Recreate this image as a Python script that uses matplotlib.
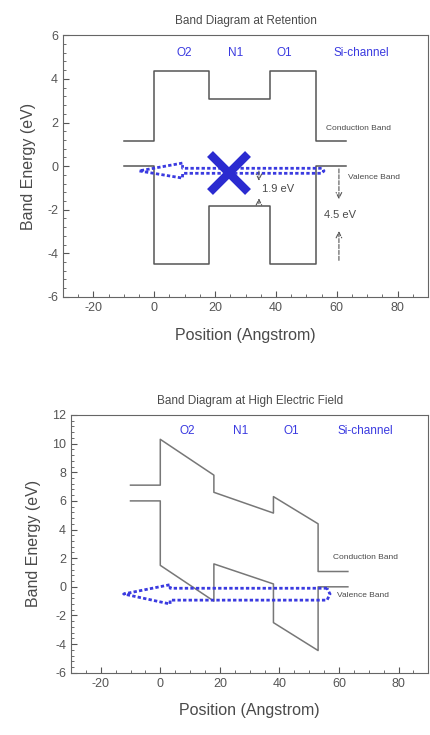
import matplotlib
matplotlib.use('Agg')
import matplotlib.pyplot as plt
from matplotlib.ticker import AutoMinorLocator

plt.rcParams['font.family'] = ['Liberation Sans', 'DejaVu Sans']
plt.rcParams['axes.unicode_minus'] = False

# --- retention band diagram (flat bands) ---
ret_cb_x = [-10, 0, 0, 18, 18, 38, 38, 53, 53, 63]
ret_cb_y = [1.15, 1.15, 4.35, 4.35, 3.1, 3.1, 4.35, 4.35, 1.15, 1.15]
ret_vb_x = [-10, 0, 0, 18, 18, 38, 38, 53, 53, 63]
ret_vb_y = [0, 0, -4.5, -4.5, -1.85, -1.85, -4.5, -4.5, 0, 0]

# hollow dotted arrow outline (retention)
ret_arrow_x = [55, 9.3, 9.3, -5, 9.3, 9.3, 55, 55.8, 55]
ret_arrow_y = [-0.1, -0.1, 0.14, -0.22, -0.55, -0.33, -0.33, -0.22, -0.1]
blocked_x = [24.6]
blocked_y = [-0.3]

# --- high field band diagram (tilted bands) ---
hf_cb_x = [-10, 0, 0, 18, 18, 38, 38, 53, 53, 63]
hf_cb_y = [7.1, 7.1, 10.3, 7.8, 6.6, 5.15, 6.3, 4.4, 1.07, 1.07]
hf_vb_x = [-10, 0, 0, 18, 18, 38, 38, 53, 53, 63]
hf_vb_y = [6.0, 6.0, 1.5, -1.0, 1.6, 0.2, -2.5, -4.45, 0, 0]

hf_arrow_x = [56, 3.3, 3.3, -12.3, 3.3, 3.3, 56, 57, 56]
hf_arrow_y = [-0.1, -0.1, 0.15, -0.5, -1.2, -0.93, -0.93, -0.5, -0.1]

layers = ['O2', 'N1', 'O1', 'Si-channel']
ret_layer_x = [9.8, 26.8, 42.6, 68.2]
hf_layer_x = [9.2, 27, 44, 68.8]

band_col = '#555555'
txt_col = '#4a4a4a'
blue = '#3a3ae0'

fig = plt.figure(figsize=(4.3, 7.35), dpi=100)
ax1 = fig.add_axes([0.1465, 0.596, 0.849, 0.356])
ax2 = fig.add_axes([0.165, 0.0847, 0.831, 0.3507])


def style(ax, ylim):
    ax.set_xlim(-30, 90)
    ax.set_ylim(*ylim)
    ax.set_yticks(range(ylim[0], ylim[1] + 1, 2))
    ax.set_xticks(range(-20, 81, 20))
    ax.xaxis.set_minor_locator(AutoMinorLocator(4))
    ax.yaxis.set_minor_locator(AutoMinorLocator(5))
    ax.tick_params(which='both', direction='in', top=False, right=False,
                   colors=band_col, labelcolor='#555555', labelsize=9)
    ax.tick_params(which='major', length=4)
    ax.tick_params(which='minor', length=2)
    for s in ax.spines.values():
        s.set_color('#666666')
    ax.set_xlabel('Position (Angstrom)', fontsize=11.5, color=txt_col, labelpad=10)
    ax.set_ylabel('Band Energy (eV)', fontsize=11.5, color=txt_col, labelpad=8)


arrow_ls = (0, (1.2, 0.8))

# top plot
ax1.plot(ret_cb_x, ret_cb_y, color=band_col, lw=1.1)
ax1.plot(ret_vb_x, ret_vb_y, color=band_col, lw=1.1)
ax1.plot(ret_arrow_x, ret_arrow_y, color=blue, lw=2, ls=arrow_ls)
ax1.plot(blocked_x, blocked_y, marker='x', ms=27, mew=6, color='#2b2bd0', ls='none')
for name, x in zip(layers, ret_layer_x):
    ax1.text(x, 5.2, name, color=blue, fontsize=8.5, ha='center', va='center')
ax1.text(56.3, 1.73, 'Conduction Band', fontsize=6, color=txt_col, va='center')
ax1.text(63.6, -0.5, 'Valence Band', fontsize=6, color=txt_col, va='center')
dash = dict(arrowstyle='->', linestyle='--', color='#555555', lw=0.8)
ax1.annotate('', xy=(34.4, -0.8), xytext=(34.4, -0.1), arrowprops=dash)
ax1.annotate('', xy=(34.4, -1.35), xytext=(34.4, -1.85), arrowprops=dash)
ax1.text(35.5, -1.05, '1.9 eV', fontsize=8, color=txt_col, va='center')
ax1.annotate('', xy=(60.7, -1.65), xytext=(60.7, 0), arrowprops=dash)
ax1.annotate('', xy=(60.7, -2.85), xytext=(60.7, -4.45), arrowprops=dash)
ax1.text(61, -2.25, '4.5 eV', fontsize=8, color=txt_col, ha='center', va='center')
ax1.set_title('Band Diagram at Retention', fontsize=8.5, color=txt_col, pad=8)
style(ax1, (-6, 6))

# bottom plot
ax2.plot(hf_cb_x, hf_cb_y, color='#777777', lw=1.1)
ax2.plot(hf_vb_x, hf_vb_y, color='#777777', lw=1.1)
ax2.plot(hf_arrow_x, hf_arrow_y, color=blue, lw=2, ls=arrow_ls)
for name, x in zip(layers, hf_layer_x):
    ax2.text(x, 10.9, name, color=blue, fontsize=8.5, ha='center', va='center')
ax2.text(58, 2.05, 'Conduction Band', fontsize=6, color=txt_col, va='center')
ax2.text(59.2, -0.63, 'Valence Band', fontsize=6, color=txt_col, va='center')
ax2.set_title('Band Diagram at High Electric Field', fontsize=8.5, color=txt_col, pad=8)
style(ax2, (-6, 12))

fig.savefig('out.png', dpi=100)
